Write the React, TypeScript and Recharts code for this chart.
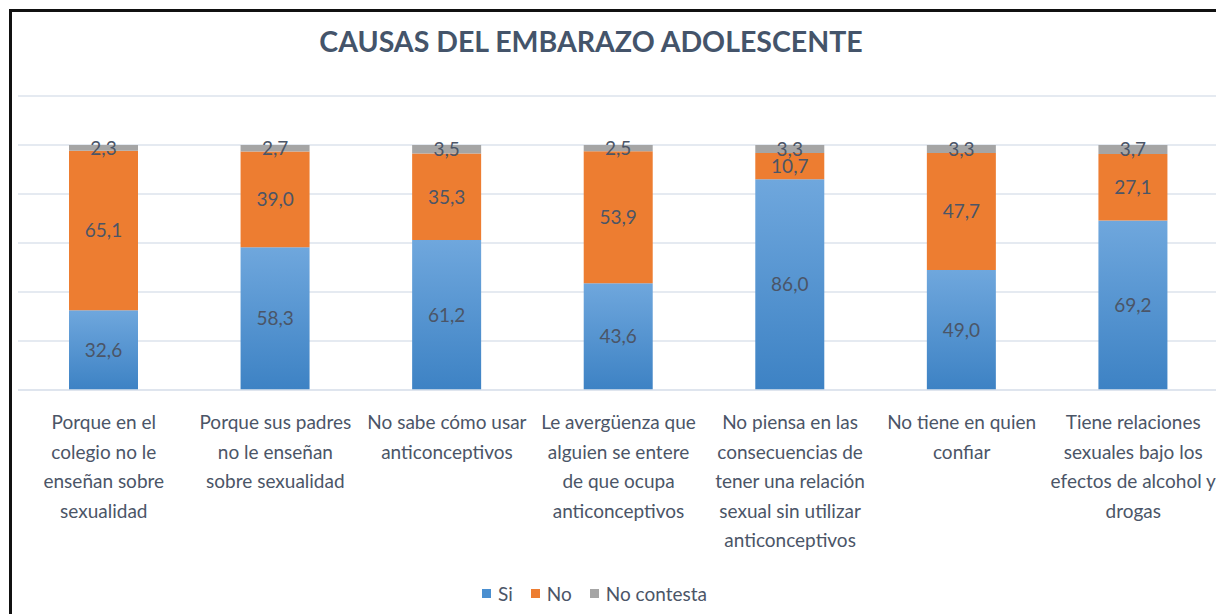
import React from 'react';
import { BarChart, Bar, XAxis, YAxis, CartesianGrid, Legend, LabelList } from 'recharts';

const categories = [
  'Porque en el\ncolegio no le\nenseñan sobre\nsexualidad',
  'Porque sus padres\nno le enseñan\nsobre sexualidad',
  'No sabe cómo usar\nanticonceptivos',
  'Le avergüenza que\nalguien se entere\nde que ocupa\nanticonceptivos',
  'No piensa en las\nconsecuencias de\ntener una relación\nsexual sin utilizar\nanticonceptivos',
  'No tiene en quien\nconfiar',
  'Tiene relaciones\nsexuales bajo los\nefectos de alcohol y\ndrogas',
];
const si = [32.6, 58.3, 61.2, 43.6, 86.0, 49.0, 69.2];
const no = [65.1, 39.0, 35.3, 53.9, 10.7, 47.7, 27.1];
const noContesta = [2.3, 2.7, 3.5, 2.5, 3.3, 3.3, 3.7];
const yTicks = [0, 20, 40, 60, 80, 100, 120];

const data = categories.map((c, i) => ({
  category: c,
  si: si[i],
  no: no[i],
  noContesta: noContesta[i],
}));

const FONT = 'Lato, "Open Sans", sans-serif';
const TEXT = '#4b5567';

const fmt = (v: any) => Number(v).toFixed(1).replace('.', ',');

const CategoryTick = (props: any) => {
  const { x, y, payload } = props;
  const lines = String(payload.value).split('\n');
  return (
    <g transform={`translate(${x},${y})`}>
      <text textAnchor="middle" fill={TEXT} fontSize={19} fontFamily={FONT}>
        {lines.map((l, i) => (
          <tspan key={i} x={0} dy={i === 0 ? 31 : 29.5}>
            {l}
          </tspan>
        ))}
      </text>
    </g>
  );
};

const legendItems = [
  { label: 'Si', color: '#4a8fd0' },
  { label: 'No', color: '#ED7D31' },
  { label: 'No contesta', color: '#A5A5A5' },
];

const LegendContent = () => (
  <div style={{ display: 'flex', justifyContent: 'center', alignItems: 'center', height: 30, fontFamily: FONT, fontSize: 19, color: TEXT, paddingRight: 30 }}>
    {legendItems.map((it) => (
      <div key={it.label} style={{ display: 'flex', alignItems: 'center', marginRight: 18 }}>
        <div style={{ width: 9, height: 9, background: it.color, marginRight: 7 }} />
        <span>{it.label}</span>
      </div>
    ))}
  </div>
);

export default function App() {
  return (
    <div style={{ position: 'absolute', left: 9, top: 9, width: 1221, height: 620, borderLeft: '3px solid #111', borderTop: '3px solid #111', background: '#fff' }}>
      <div style={{ position: 'absolute', left: 0, width: 1158, top: 12, textAlign: 'center', fontFamily: FONT, fontWeight: 700, fontSize: 28.5, color: '#44546A', letterSpacing: 0 }}>
        CAUSAS DEL EMBARAZO ADOLESCENTE
      </div>
      <BarChart
        width={1215}
        height={610}
        data={data}
        margin={{ top: 84, right: 8, left: 6, bottom: 14 }}
        barCategoryGap={0}
      >
        <defs>
          <linearGradient id="siGrad" x1="0" y1="0" x2="0" y2="1">
            <stop offset="0%" stopColor="#6fa7dd" />
            <stop offset="100%" stopColor="#3d82c4" />
          </linearGradient>
        </defs>
        <CartesianGrid vertical={false} stroke="#dde3ec" strokeWidth={1.5} />
        <XAxis
          dataKey="category"
          interval={0}
          height={188}
          tickLine={false}
          axisLine={{ stroke: '#dde3ec', strokeWidth: 1.5 }}
          tick={<CategoryTick />}
        />
        <YAxis hide domain={[0, 120]} ticks={yTicks} />
        <Legend verticalAlign="bottom" height={30} content={<LegendContent />} />
        <Bar dataKey="si" name="Si" stackId="a" fill="url(#siGrad)" barSize={69} isAnimationActive={false}>
          <LabelList dataKey="si" position="center" formatter={fmt} fill={TEXT} fontSize={19} fontFamily={FONT} />
        </Bar>
        <Bar dataKey="no" name="No" stackId="a" fill="#ED7D31" barSize={69} isAnimationActive={false}>
          <LabelList dataKey="no" position="center" formatter={fmt} fill={TEXT} fontSize={19} fontFamily={FONT} />
        </Bar>
        <Bar dataKey="noContesta" name="No contesta" stackId="a" fill="#A5A5A5" barSize={69} isAnimationActive={false}>
          <LabelList dataKey="noContesta" position="center" formatter={fmt} fill={TEXT} fontSize={19} fontFamily={FONT} />
        </Bar>
      </BarChart>
    </div>
  );
}
